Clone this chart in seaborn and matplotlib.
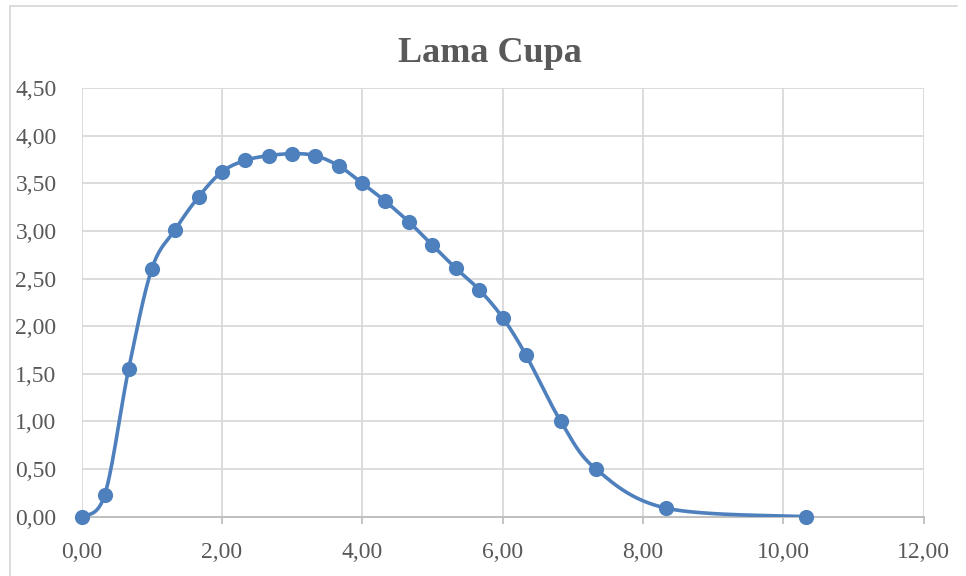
import numpy as np
import pandas as pd
import matplotlib
matplotlib.use("Agg")
import matplotlib.pyplot as plt
import seaborn as sns
from matplotlib.ticker import FuncFormatter, MultipleLocator
from matplotlib.lines import Line2D

# ---- data ----
x_vals = [0.00, 0.33, 0.67, 1.00, 1.33, 1.67, 2.00, 2.33, 2.67, 3.00, 3.33, 3.67,
          4.00, 4.33, 4.67, 5.00, 5.33, 5.67, 6.00, 6.33, 6.83, 7.33, 8.33, 10.33]
y_vals = [0.00, 0.23, 1.55, 2.60, 3.01, 3.36, 3.62, 3.74, 3.79, 3.81, 3.79, 3.68,
          3.50, 3.31, 3.09, 2.85, 2.61, 2.38, 2.09, 1.70, 1.00, 0.50, 0.09, 0.00]
title = "Lama Cupa"

df = pd.DataFrame({"x": x_vals, "y": y_vals})

sns.set_theme(style="white")
plt.rcParams['font.family'] = ['Liberation Serif', 'DejaVu Serif']

W, H = 966, 576
fig = plt.figure(figsize=(W / 100, H / 100), dpi=100)
fig.patch.set_facecolor("white")

x0, x1 = 81.6, 923.6
y_top, y_bot = 88.0, 516.7
ax = fig.add_axes([x0 / W, 1 - y_bot / H, (x1 - x0) / W, (y_bot - y_top) / H])

blue = "#4E80BD"
grid_c = "#D9D9D9"
text_c = "#595959"

# Excel-like smooth curve (Catmull-Rom / Bezier) computed in screen-proportional space
sx, sy = (x1 - x0) / 12.0, (y_bot - y_top) / 4.5
P = np.column_stack([np.array(x_vals) * sx, np.array(y_vals) * sy])
n = len(P)
curve = []
t = np.linspace(0, 1, 40)[:, None]
for i in range(n - 1):
    p0 = P[max(i - 1, 0)]
    p1 = P[i]
    p2 = P[i + 1]
    p3 = P[min(i + 2, n - 1)]
    c1 = p1 + (p2 - p0) / 6.0
    c2 = p2 - (p3 - p1) / 6.0
    seg = ((1 - t) ** 3) * p1 + 3 * ((1 - t) ** 2) * t * c1 + 3 * (1 - t) * t ** 2 * c2 + t ** 3 * p2
    curve.append(seg)
curve = np.vstack(curve)
smooth = pd.DataFrame({"x": curve[:, 0] / sx, "y": curve[:, 1] / sy})

sns.lineplot(data=smooth, x="x", y="y", ax=ax, color=blue, linewidth=2.6,
             sort=False, estimator=None, zorder=3)
sns.scatterplot(data=df, x="x", y="y", ax=ax, color=blue, s=120,
                edgecolor=blue, linewidth=0, zorder=4, clip_on=False)

ax.set_xlim(0, 12)
ax.set_ylim(0, 4.5)
ax.xaxis.set_major_locator(MultipleLocator(2))
ax.yaxis.set_major_locator(MultipleLocator(0.5))
fmt = FuncFormatter(lambda v, p: f"{v:.2f}".replace(".", ","))
ax.xaxis.set_major_formatter(fmt)
ax.yaxis.set_major_formatter(fmt)
ax.set_xlabel("")
ax.set_ylabel("")

ax.grid(True, color=grid_c, linewidth=1.3)
ax.set_axisbelow(True)
for s in ["top", "right", "left"]:
    ax.spines[s].set_visible(False)
ax.spines["bottom"].set_color("#BFBFBF")
ax.spines["bottom"].set_linewidth(1.4)
ax.spines["bottom"].set_zorder(2)

ax.tick_params(axis="x", which="major", length=5, width=1.3, color="#BFBFBF",
               direction="out", pad=13, labelsize=17, labelcolor=text_c, bottom=True)
ax.tick_params(axis="y", which="major", length=0, pad=18, labelsize=17,
               labelcolor=text_c, left=True)

# chart title
fig.text(490 / W, 1 - 62 / H, title, ha="center", va="baseline",
         fontsize=26, fontweight="bold", color=text_c)

# chart area border (top and left visible)
fig.add_artist(Line2D([10 / W, 957 / W], [1 - 5.5 / H, 1 - 5.5 / H],
                      transform=fig.transFigure, color="#D9D9D9", linewidth=1.3))
fig.add_artist(Line2D([10 / W, 10 / W], [1 - 5.5 / H, 0],
                      transform=fig.transFigure, color="#D9D9D9", linewidth=1.3))

fig.savefig("out.png", dpi=100, facecolor="white")
